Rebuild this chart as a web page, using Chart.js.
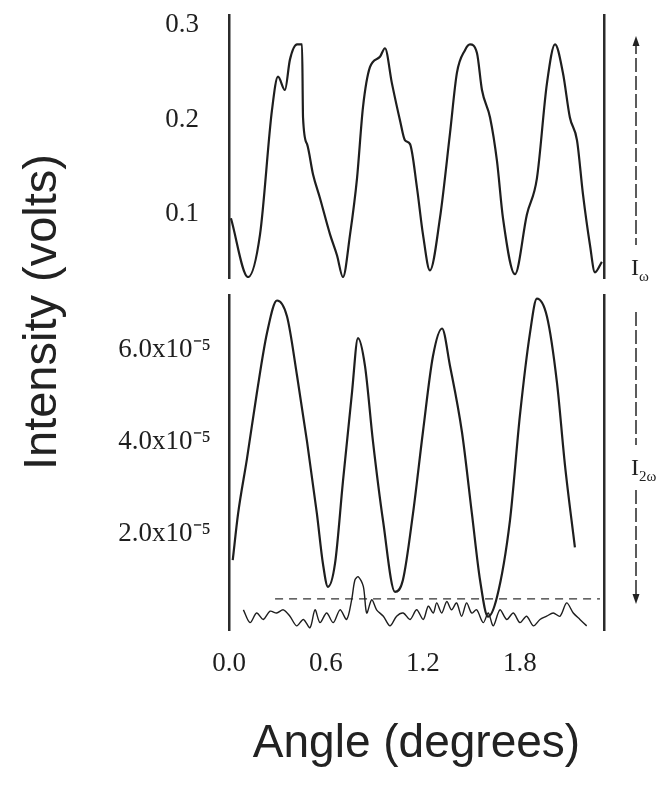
<!DOCTYPE html>
<html><head><meta charset="utf-8">
<script src="https://cdn.jsdelivr.net/npm/chart.js@4.4.0/dist/chart.umd.min.js"></script>
<style>
html,body{margin:0;padding:0;background:#fff;}
#wrap{position:relative;width:667px;height:786px;overflow:hidden;background:#fff;}
#c1{position:absolute;left:0;top:0;}
#c2{position:absolute;left:0;top:285px;}
#ytitle{position:absolute;left:-160px;top:286px;width:400px;height:52px;line-height:52px;text-align:center;
  transform:rotate(-90deg);font-family:"Liberation Sans",Arial,sans-serif;font-size:47px;color:#222;white-space:nowrap;}
</style>
</head><body>
<div id="wrap">
<canvas id="c1" width="667" height="295"></canvas>
<canvas id="c2" width="667" height="501"></canvas>
<div id="ytitle">Intensity (volts)</div>
</div>
<script>
// ---- data ----
const xTicks = [0, 0.6, 1.2, 1.8];
const xTickLabels = ['0.0', '0.6', '1.2', '1.8'];
const yTopTicks = [0.1, 0.2, 0.3];
const yTopLabels = ['0.1', '0.2', '0.3'];
const yBotTicks = [2, 4, 6];               // units of 1e-5 V
const yBotLabels = ['2.0x10\u207B\u2075', '4.0x10\u207B\u2075', '6.0x10\u207B\u2075'];

// I_omega (volts) vs angle (degrees)
const angleTop = [0.012,0.118,0.192,0.266,0.303,0.346,0.377,0.421,0.452,0.458,0.483,0.520,0.563,0.625,0.668,0.705,
  0.749,0.792,0.829,0.872,0.934,0.965,1.008,1.058,1.089,1.120,1.163,1.200,1.243,1.305,1.367,1.410,1.460,1.491,1.534,
  1.565,1.615,1.658,1.695,1.769,1.843,1.905,1.967,2.017,2.066,2.109,2.153,2.190,2.233,2.264,2.307];
const iOmega = [0.096,0.034,0.079,0.210,0.245,0.231,0.263,0.279,0.279,0.202,0.174,0.142,0.117,0.079,0.057,0.034,
  0.079,0.138,0.213,0.255,0.266,0.275,0.238,0.199,0.178,0.174,0.128,0.079,0.041,0.096,0.185,0.249,0.273,0.279,0.270,
  0.231,0.202,0.156,0.096,0.037,0.100,0.138,0.238,0.279,0.249,0.202,0.178,0.121,0.068,0.039,0.050];

// I_2omega (x1e-5 volts) vs angle
const angleBot = [0.023,0.056,0.111,0.173,0.235,0.297,0.359,0.421,0.483,0.544,0.581,0.612,0.656,0.705,0.761,0.798,
  0.841,0.891,0.953,1.027,1.076,1.138,1.200,1.262,1.318,1.367,1.441,1.503,1.553,1.602,1.658,1.738,1.800,1.862,1.905,
  1.967,2.029,2.078,2.140];
const i2Omega = [1.42,2.43,3.63,5.08,6.37,7.08,6.73,5.44,4.00,2.43,1.35,0.84,1.35,3.14,5.08,6.26,
  5.66,4.00,2.28,0.73,0.99,2.43,4.22,5.87,6.47,5.66,4.22,2.43,0.99,0.19,0.62,2.28,4.58,6.37,7.12,
  6.73,5.29,3.51,1.70];

// background noise trace (x1e-5 volts)
const angleNoise = [0.089,0.130,0.171,0.212,0.254,0.295,0.336,0.377,0.419,0.460,0.501,0.532,0.563,0.604,0.645,0.687,
  0.728,0.759,0.779,0.800,0.831,0.852,0.883,0.913,0.955,0.996,1.037,1.078,1.120,1.161,1.202,1.233,1.264,1.285,1.316,
  1.347,1.377,1.408,1.439,1.470,1.501,1.532,1.573,1.604,1.635,1.676,1.718,1.759,1.800,1.841,1.883,1.924,1.965,2.006,
  2.048,2.089,2.130,2.171,2.213];
const noise = [0.34,0.06,0.27,0.13,0.31,0.27,0.34,0.20,-0.01,0.13,-0.05,0.34,0.06,0.27,0.06,0.34,
  0.13,0.56,0.99,1.06,0.85,0.27,0.56,0.34,0.20,-0.01,0.20,0.27,0.13,0.34,0.13,0.42,0.27,0.49,0.27,
  0.52,0.34,0.49,0.20,0.49,0.27,0.34,0.06,0.27,-0.01,0.34,0.13,0.27,0.06,0.20,-0.01,0.13,0.20,0.27,
  0.20,0.49,0.27,0.13,-0.01];

// dashed noise level line
const noiseLevelAngle = [0.285, 2.295];
const noiseLevel = [0.58, 0.58];

// ---- helpers ----
const pts = (xs, ys) => xs.map((x, i) => ({x, y: ys[i]}));
const INK = '#1e1e1e';
const AXIS = '#2b2b2b';
const serif = '"Liberation Serif","Times New Roman",serif';

function fixWidth(w) {
  return s => { s.width = w; s.paddingTop = 0; s.paddingBottom = 0; };
}

function sideAxis(min, max, pos, width) {
  return {
    type: 'linear', position: pos, min, max,
    grid: {display: false},
    ticks: {display: false},
    border: {display: true, color: AXIS, width: 2.5},
    afterFit: fixWidth(width)
  };
}

function rangeMarker(id, segs, label, sub) {
  return {
    id,
    afterDraw(chart) {
      const ctx = chart.ctx;
      const x = chart.chartArea.right + 32;
      ctx.save();
      ctx.strokeStyle = '#333';
      ctx.fillStyle = '#222';
      ctx.lineWidth = 1.6;
      ctx.setLineDash([14, 4]);
      segs.lines.forEach(([a, b]) => {
        ctx.beginPath(); ctx.moveTo(x, a); ctx.lineTo(x, b); ctx.stroke();
      });
      ctx.setLineDash([]);
      (segs.arrows || []).forEach(([y, dir]) => {
        ctx.beginPath();
        ctx.moveTo(x, y);
        ctx.lineTo(x - 3.5, y - dir * 10);
        ctx.lineTo(x + 3.5, y - dir * 10);
        ctx.closePath(); ctx.fill();
      });
      ctx.font = '24px ' + serif;
      ctx.textBaseline = 'alphabetic';
      ctx.textAlign = 'left';
      ctx.fillText(label, x - 5, segs.labelY);
      ctx.font = '15px ' + serif;
      ctx.fillText(sub, x + 3, segs.labelY + 6);
      ctx.restore();
    }
  };
}

// ---- top panel: I_omega ----
new Chart(document.getElementById('c1'), {
  type: 'line',
  data: {
    datasets: [{
      data: pts(angleTop, iOmega),
      borderColor: INK, borderWidth: 2.2, pointRadius: 0,
      cubicInterpolationMode: 'monotone', fill: false
    }]
  },
  options: {
    responsive: false, animation: false, devicePixelRatio: 1,
    layout: {padding: {top: 15, right: 0, bottom: 17, left: 0}},
    plugins: {legend: {display: false}, tooltip: {enabled: false}},
    scales: {
      x: {type: 'linear', min: 0, max: 2.32, display: false},
      y: {
        type: 'linear', position: 'left', min: 0.033, max: 0.31,
        afterBuildTicks: s => { s.ticks = yTopTicks.map(v => ({value: v})); },
        ticks: {
          color: '#1e1e1e', padding: 22, font: {family: serif, size: 27},
          callback: v => yTopLabels[yTopTicks.indexOf(v)]
        },
        grid: {display: false},
        border: {display: true, color: AXIS, width: 2.5},
        afterFit: fixWidth(229)
      },
      yr: sideAxis(0.033, 0.31, 'right', 63)
    }
  },
  plugins: [rangeMarker('mk1', {lines: [[40, 245]], arrows: [[36, -1]], labelY: 275}, 'I', '\u03C9')]
});

// ---- bottom panel: I_2omega ----
new Chart(document.getElementById('c2'), {
  type: 'line',
  data: {
    datasets: [
      {
        data: pts(angleBot, i2Omega),
        borderColor: INK, borderWidth: 2.2, pointRadius: 0,
        cubicInterpolationMode: 'monotone', fill: false
      },
      {
        data: pts(angleNoise, noise),
        borderColor: INK, borderWidth: 1.4, pointRadius: 0,
        tension: 0.3, fill: false
      },
      {
        data: pts(noiseLevelAngle, noiseLevel),
        borderColor: '#333', borderWidth: 1.2, pointRadius: 0,
        borderDash: [8, 6], fill: false
      }
    ]
  },
  options: {
    responsive: false, animation: false, devicePixelRatio: 1,
    layout: {padding: {top: 10, right: 0, bottom: 0, left: 0}},
    plugins: {legend: {display: false}, tooltip: {enabled: false}},
    scales: {
      x: {
        type: 'linear', min: 0, max: 2.32,
        afterBuildTicks: s => { s.ticks = xTicks.map(v => ({value: v})); },
        ticks: {
          color: '#1e1e1e', padding: 10, font: {family: serif, size: 27}, maxRotation: 0,
          callback: v => xTickLabels[xTicks.indexOf(v)]
        },
        grid: {display: false},
        border: {display: false},
        title: {
          display: true, text: 'Angle (degrees)', color: '#222',
          font: {family: '"Liberation Sans",Arial,sans-serif', size: 46},
          padding: {top: 0, bottom: 14}
        },
        afterFit: s => { s.height = 156; s.paddingLeft = 0; s.paddingRight = 0; }
      },
      y: {
        type: 'linear', position: 'left', min: -0.1, max: 7.2,
        afterBuildTicks: s => { s.ticks = yBotTicks.map(v => ({value: v})); },
        ticks: {
          color: '#1e1e1e', padding: 10, font: {family: serif, size: 27},
          callback: v => yBotLabels[yBotTicks.indexOf(v)]
        },
        grid: {display: false},
        border: {display: true, color: AXIS, width: 2.5},
        afterFit: fixWidth(229)
      },
      yr: sideAxis(-0.1, 7.2, 'right', 63)
    }
  },
  plugins: [rangeMarker('mk2', {lines: [[27, 160], [205, 315]], arrows: [[319, 1]], labelY: 190}, 'I', '2\u03C9')]
});
</script>
</body></html>
